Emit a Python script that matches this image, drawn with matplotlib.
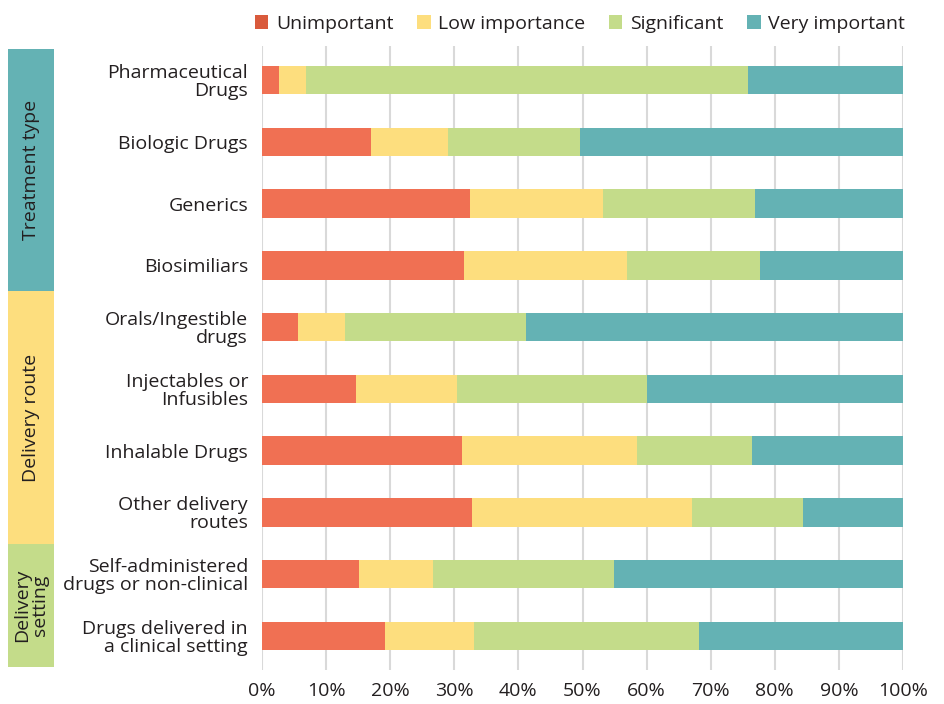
import matplotlib
matplotlib.use("Agg")
import matplotlib.pyplot as plt
from matplotlib.patches import Patch, Rectangle
import numpy as np

plt.rcParams['font.family'] = ['Open Sans', 'DejaVu Sans']

categories = ["Pharmaceutical\nDrugs", "Biologic Drugs", "Generics", "Biosimiliars",
              "Orals/Ingestible\ndrugs", "Injectables or\nInfusibles", "Inhalable Drugs",
              "Other delivery\nroutes", "Self-administered\ndrugs or non-clinical",
              "Drugs delivered in\na clinical setting"]

series_names = ["Unimportant", "Low importance", "Significant", "Very important"]

unimportant = [2.7, 17.0, 32.4, 31.5, 5.6, 14.7, 31.2, 32.8, 15.1, 19.2]
low_importance = [4.2, 12.0, 20.8, 25.4, 7.3, 15.7, 27.3, 34.3, 11.6, 13.9]
significant = [68.9, 20.6, 23.7, 20.8, 28.3, 29.7, 17.9, 17.3, 28.2, 35.1]
very_important = [24.2, 50.4, 23.1, 22.3, 58.8, 39.9, 23.6, 15.6, 45.1, 31.8]

groups = ["Treatment type", "Delivery route", "Delivery\nsetting"]

colors = ["#F07053", "#FDDE7E", "#C4DC8A", "#64B2B4"]
legend_colors = ["#D95A3C", "#FDDE7E", "#C4DC8A", "#64B2B4"]
group_colors = ["#64B2B4", "#FDDE7E", "#C4DC8A"]
text_color = "#231F20"
fs = 14

fig = plt.figure(figsize=(9.44, 7.04), dpi=100)
ax = fig.add_axes([262 / 944, 1 - 670 / 704, 641 / 944, 624 / 704])

y = np.arange(len(categories))
left = np.zeros(len(categories))
for vals, c in zip([unimportant, low_importance, significant, very_important], colors):
    ax.barh(y, vals, left=left, height=0.46, color=c, zorder=3)
    left += np.array(vals)

ax.set_xlim(0, 100)
ax.set_ylim(len(categories) - 0.5 + 0.05, -0.5 - 0.05)
ax.set_xticks(np.arange(0, 101, 10))
ax.set_xticklabels([f"{v}%" for v in range(0, 101, 10)], fontsize=fs, color=text_color)
ax.set_yticks(y)
ax.set_yticklabels(categories, fontsize=fs, color=text_color, linespacing=1.0)
ax.tick_params(length=0, pad=10)
ax.tick_params(axis='x', pad=9)
ax.grid(axis='x', color="#D9D9D9", linewidth=1.5, zorder=0)
for s in ax.spines.values():
    s.set_visible(False)

# legend
handles = [Patch(facecolor=c, label=n) for c, n in zip(legend_colors, series_names)]
fig.legend(handles=handles, loc='center', bbox_to_anchor=(580 / 944, 1 - 24 / 704), ncol=4,
           frameon=False, fontsize=fs, handlelength=0.7, handleheight=0.7,
           handletextpad=0.4, columnspacing=1.2, labelcolor=text_color)

# group boxes on the left
bounds = [49, 291, 544, 667]
for i, (g, gc) in enumerate(zip(groups, group_colors)):
    y0, y1 = bounds[i], bounds[i + 1]
    fig.patches.append(Rectangle((8 / 944, 1 - y1 / 704), 46 / 944, (y1 - y0) / 704,
                                 transform=fig.transFigure, facecolor=gc, edgecolor='none'))
    fig.text(31 / 944, 1 - (y0 + y1) / 2 / 704, g, rotation=90, ha='center', va='center',
             fontsize=fs, color=text_color, linespacing=0.95)

fig.savefig("out.png", dpi=100)
